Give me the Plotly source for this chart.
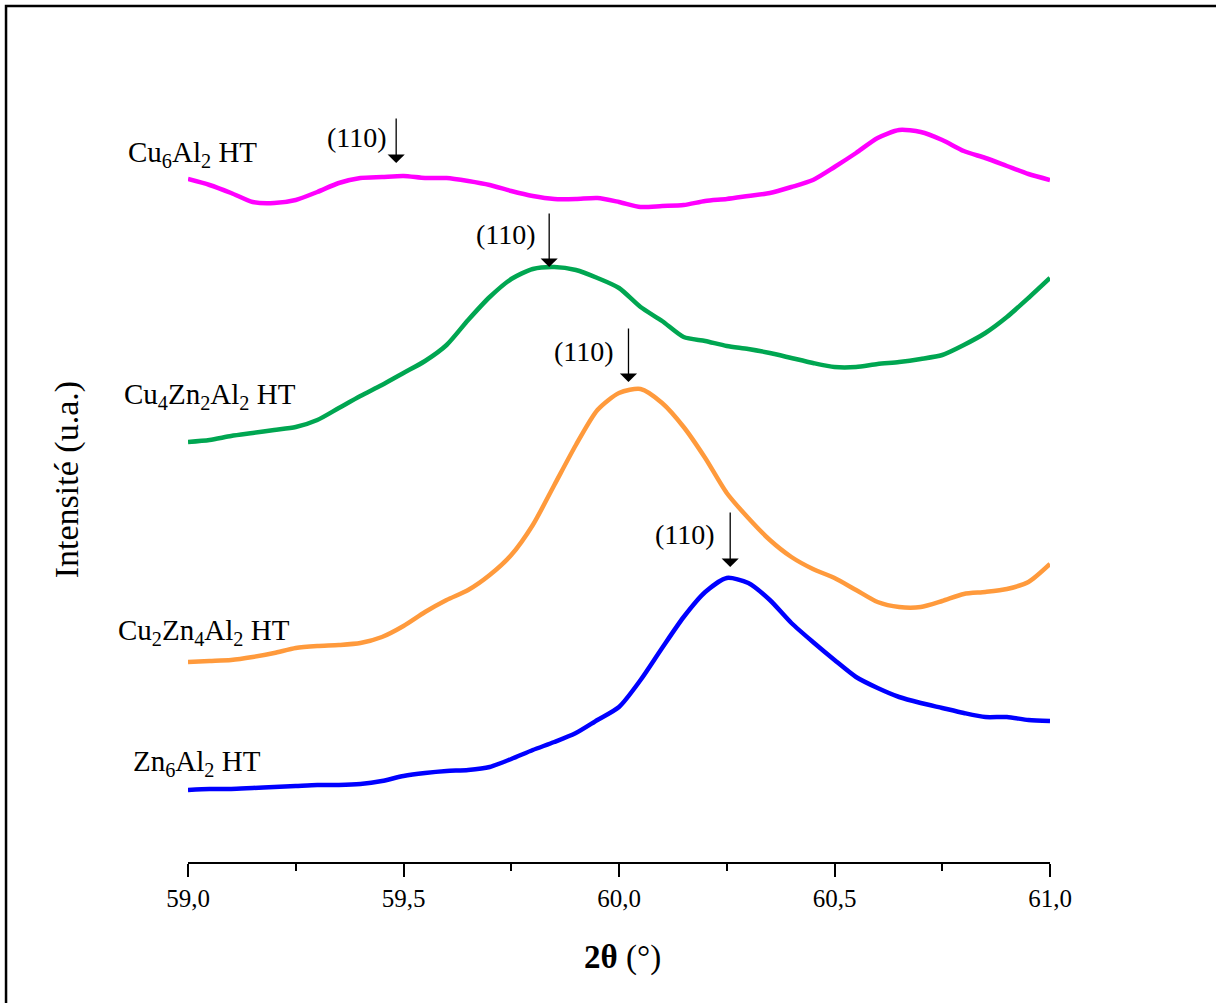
import plotly.graph_objects as go

# 2-theta grid (degrees)
two_theta = [59.00, 59.05, 59.10, 59.15, 59.20, 59.25, 59.30, 59.35, 59.40, 59.45,
             59.50, 59.55, 59.60, 59.65, 59.70, 59.75, 59.80, 59.85, 59.90, 59.95,
             60.00, 60.05, 60.10, 60.15, 60.20, 60.25, 60.30, 60.35, 60.40, 60.45,
             60.50, 60.55, 60.60, 60.65, 60.70, 60.75, 60.80, 60.85, 60.90, 60.95, 61.00]

# Intensities (a.u., stacked offsets as in the figure)
cu6al2 = [683, 677, 669, 660, 659, 662, 670, 679, 684, 685,
          686, 684, 684, 681, 677, 671, 666, 663, 663, 664,
          660, 655, 656, 657, 661, 663, 666, 669, 675, 682,
          695, 709, 724, 732, 730, 722, 711, 704, 696, 688, 682]

cu4zn2al2 = [420, 422, 426, 429, 432, 435, 442, 454, 466, 477,
             489, 501, 517, 542, 565, 583, 593, 595, 592, 584,
             574, 555, 541, 525, 521, 516, 513, 509, 504, 499,
             495, 495, 498, 500, 503, 507, 517, 529, 545, 564, 584]

cu2zn4al2 = [200, 201, 202, 205, 209, 214, 216, 217, 219, 225,
             236, 250, 262, 272, 287, 307, 337, 377, 417, 452,
             469, 473, 459, 435, 404, 369, 344, 322, 305, 293,
             284, 272, 260, 255, 255, 261, 268, 270, 273, 280, 298]

zn6al2 = [72, 73, 73, 74, 75, 76, 77, 77, 78, 81,
          86, 89, 91, 92, 95, 103, 112, 120, 129, 142,
          155, 182, 214, 245, 270, 284, 279, 262, 239, 220,
          202, 185, 174, 165, 159, 154, 149, 145, 145, 142, 141]

series_names = ["Cu6Al2 HT", "Cu4Zn2Al2 HT", "Cu2Zn4Al2 HT", "Zn6Al2 HT"]
series_labels = ["Cu<sub>6</sub>Al<sub>2</sub> HT",
                 "Cu<sub>4</sub>Zn<sub>2</sub>Al<sub>2</sub> HT",
                 "Cu<sub>2</sub>Zn<sub>4</sub>Al<sub>2</sub> HT",
                 "Zn<sub>6</sub>Al<sub>2</sub> HT"]
series_values = [cu6al2, cu4zn2al2, cu2zn4al2, zn6al2]
series_colors = ["#FF00FF", "#00A651", "#FF9A3C", "#0000FF"]

# (110) reflection positions and the arrow tip/tail intensities
peak_2theta = [59.483, 59.838, 60.022, 60.258]
arrow_tip = [699, 595, 480, 295]
arrow_tail = [745, 650, 535, 351]
peak_label = "(110)"

# label anchors (paper x, intensity y)
label_x = [-0.0720, -0.0766, -0.0836, -0.0662]
label_y = [708, 466, 230, 99]
peak_label_x = [59.392, 59.738, 59.919, 60.153]
peak_label_y = [725, 628, 511, 328]

FONT = "Liberation Serif, Times New Roman, serif"

fig = go.Figure()
for name, vals, col in zip(series_names, series_values, series_colors):
    fig.add_trace(go.Scatter(x=two_theta, y=vals, mode="lines", name=name,
                             line=dict(color=col, width=4.5, shape="spline", smoothing=0.7),
                             showlegend=False, cliponaxis=False))

annotations = []
for lx, ly, txt in zip(label_x, label_y, series_labels):
    annotations.append(dict(x=lx, y=ly, xref="paper", yref="y", text=txt, showarrow=False,
                            xanchor="left", yanchor="middle",
                            font=dict(family=FONT, size=29, color="black")))
for px, tip, tail in zip(peak_2theta, arrow_tip, arrow_tail):
    annotations.append(dict(x=px, y=tip, xref="x", yref="y", ax=px, ay=tail,
                            axref="x", ayref="y", text="", showarrow=True,
                            arrowhead=1, arrowsize=2.2, arrowwidth=1.3,
                            arrowcolor="black"))
for lx, ly in zip(peak_label_x, peak_label_y):
    annotations.append(dict(x=lx, y=ly, xref="x", yref="y", text=peak_label,
                            showarrow=False, xanchor="center", yanchor="middle",
                            font=dict(family=FONT, size=28, color="black")))
# axis titles
annotations.append(dict(x=-0.1404, y=0.444, xref="paper", yref="paper",
                        text="Intensité (u.a.)", textangle=-90, showarrow=False,
                        xanchor="center", yanchor="middle",
                        font=dict(family=FONT, size=34, color="black")))
annotations.append(dict(x=0.5046, y=-0.111, xref="paper", yref="paper",
                        text="<b>2θ</b> (°)", showarrow=False,
                        xanchor="center", yanchor="middle",
                        font=dict(family=FONT, size=33, color="black")))

fig.update_layout(
    width=1216, height=1003,
    margin=dict(l=188, r=166, t=0, b=141),
    paper_bgcolor="white", plot_bgcolor="white",
    separators=", ",
    annotations=annotations,
    shapes=[dict(type="rect", xref="paper", yref="paper",
                 x0=-0.2111, x1=1.2, y0=-0.18, y1=0.993,
                 line=dict(color="black", width=2.5), fillcolor="rgba(0,0,0,0)",
                 layer="below")],
    xaxis=dict(range=[59.0, 61.0], showgrid=False, zeroline=False,
               showline=True, linecolor="black", linewidth=2,
               ticks="outside", ticklen=13, tickwidth=2, tickcolor="black",
               tickvals=[59.0, 59.5, 60.0, 60.5, 61.0], tickformat=".1f",
               tickfont=dict(family=FONT, size=25, color="black"),
               minor=dict(ticks="outside", ticklen=7, tickwidth=2, tickcolor="black",
                          tickvals=[59.25, 59.75, 60.25, 60.75], showgrid=False)),
    yaxis=dict(range=[0, 862], visible=False, showgrid=False, zeroline=False),
)

fig.write_html("out.html", config={"displayModeBar": False},
               post_script="document.body.style.margin='0';document.body.style.overflow='hidden';")
